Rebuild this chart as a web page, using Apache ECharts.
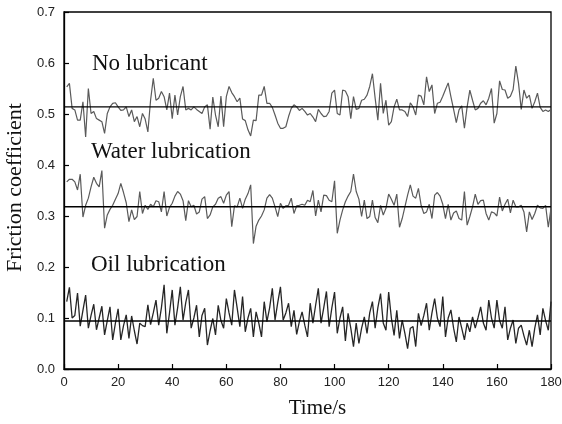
<!DOCTYPE html>
<html>
<head>
<meta charset="utf-8">
<script src="https://cdn.jsdelivr.net/npm/echarts@6/dist/echarts.min.js"></script>
<style>html,body{margin:0;padding:0;background:#fff}#c{width:562px;height:424px}</style>
</head>
<body>
<div id="c"></div>
<script>
const xTicks = [0, 20, 40, 60, 80, 100, 120, 140, 160, 180];
const yTicks = [0.0, 0.1, 0.2, 0.3, 0.4, 0.5, 0.6, 0.7];
const seriesNames = ["No lubricant", "Water lubrication", "Oil lubrication"];
const meanNoLub = 0.514;
const meanWater = 0.318;
const meanOil = 0.094;

const noLub = [
0.553,0.560,0.511,0.508,0.488,0.488,0.524,0.455,0.550,0.501,
0.505,0.491,0.488,0.485,0.462,0.501,0.514,0.521,0.522,0.514,
0.507,0.508,0.514,0.495,0.508,0.485,0.495,0.475,0.501,0.490,
0.465,0.527,0.570,0.527,0.531,0.544,0.534,0.508,0.541,0.491,
0.537,0.498,0.534,0.554,0.508,0.511,0.508,0.514,0.509,0.505,
0.501,0.514,0.518,0.470,0.533,0.498,0.475,0.535,0.475,0.534,
0.554,0.542,0.534,0.524,0.531,0.490,0.487,0.469,0.457,0.488,
0.487,0.537,0.537,0.554,0.521,0.521,0.513,0.498,0.482,0.472,
0.472,0.475,0.495,0.511,0.518,0.514,0.507,0.511,0.505,0.498,
0.501,0.494,0.485,0.509,0.501,0.495,0.496,0.505,0.541,0.547,
0.501,0.498,0.547,0.545,0.534,0.491,0.534,0.509,0.511,0.527,
0.529,0.537,0.554,0.579,0.531,0.488,0.560,0.501,0.527,0.478,
0.485,0.514,0.529,0.508,0.508,0.505,0.495,0.522,0.514,0.498,
0.537,0.535,0.518,0.573,0.544,0.557,0.501,0.521,0.523,0.535,
0.548,0.561,0.534,0.509,0.483,0.508,0.516,0.472,0.514,0.547,
0.527,0.508,0.511,0.521,0.526,0.518,0.531,0.550,0.482,0.501,
0.565,0.548,0.547,0.531,0.535,0.548,0.594,0.560,0.509,0.547,
0.531,0.537,0.511,0.524,0.541,0.513,0.505,0.508,0.505,0.509
];
const water = [
0.367,0.372,0.372,0.367,0.351,0.382,0.298,0.321,0.335,0.357,
0.376,0.364,0.357,0.389,0.276,0.302,0.313,0.321,0.333,0.344,
0.364,0.346,0.326,0.289,0.312,0.293,0.299,0.348,0.305,0.321,
0.313,0.323,0.318,0.330,0.328,0.308,0.348,0.300,0.317,0.325,
0.339,0.348,0.343,0.330,0.291,0.330,0.318,0.321,0.304,0.308,
0.333,0.338,0.295,0.302,0.318,0.323,0.335,0.338,0.325,0.341,
0.348,0.279,0.320,0.318,0.335,0.315,0.333,0.344,0.361,0.246,
0.280,0.292,0.300,0.312,0.335,0.342,0.335,0.318,0.299,0.325,
0.315,0.320,0.321,0.335,0.305,0.320,0.321,0.323,0.321,0.331,
0.328,0.350,0.300,0.331,0.308,0.341,0.340,0.331,0.328,0.369,
0.266,0.292,0.312,0.328,0.339,0.348,0.382,0.348,0.333,0.299,
0.331,0.295,0.299,0.331,0.297,0.287,0.321,0.302,0.315,0.343,
0.333,0.321,0.343,0.278,0.295,0.318,0.341,0.361,0.339,0.335,
0.354,0.321,0.305,0.308,0.323,0.295,0.341,0.346,0.339,0.323,
0.295,0.323,0.292,0.306,0.310,0.295,0.292,0.348,0.282,0.299,
0.318,0.343,0.323,0.330,0.331,0.305,0.292,0.308,0.306,0.300,
0.337,0.310,0.323,0.333,0.306,0.331,0.318,0.318,0.321,0.308,
0.269,0.308,0.293,0.305,0.321,0.316,0.315,0.321,0.278,0.315
];
const oil = [
0.132,0.160,0.100,0.105,0.149,0.084,0.115,0.145,0.080,0.105,
0.127,0.077,0.100,0.123,0.067,0.095,0.122,0.057,0.090,0.118,
0.057,0.085,0.106,0.060,0.104,0.075,0.049,0.090,0.085,0.083,
0.126,0.087,0.110,0.135,0.086,0.120,0.165,0.070,0.110,0.155,
0.086,0.120,0.161,0.096,0.130,0.155,0.080,0.100,0.125,0.063,
0.105,0.119,0.047,0.075,0.099,0.067,0.125,0.095,0.080,0.138,
0.110,0.086,0.155,0.120,0.083,0.142,0.073,0.100,0.119,0.063,
0.112,0.090,0.063,0.132,0.093,0.120,0.158,0.096,0.130,0.161,
0.096,0.110,0.129,0.083,0.115,0.068,0.093,0.112,0.086,0.063,
0.129,0.090,0.125,0.158,0.090,0.120,0.152,0.083,0.120,0.151,
0.070,0.100,0.122,0.055,0.109,0.080,0.044,0.090,0.050,0.080,
0.102,0.070,0.110,0.132,0.080,0.120,0.148,0.090,0.076,0.151,
0.100,0.066,0.115,0.060,0.096,0.070,0.040,0.080,0.083,0.044,
0.109,0.085,0.105,0.129,0.076,0.110,0.138,0.100,0.083,0.142,
0.063,0.100,0.116,0.080,0.053,0.102,0.080,0.057,0.090,0.073,
0.102,0.080,0.100,0.122,0.090,0.076,0.135,0.100,0.080,0.135,
0.095,0.080,0.122,0.057,0.080,0.096,0.050,0.080,0.086,0.065,
0.047,0.076,0.044,0.080,0.106,0.067,0.119,0.095,0.076,0.132
];
const timeStart = 1; // first sample at t = 1 s, one sample per second

function pairs(arr) { return arr.map((v, i) => [timeStart + i, v]); }
function meanLine(m) { return [[xTicks[0], m], [xTicks[xTicks.length - 1], m]]; }

const chart = echarts.init(document.getElementById('c'), null, {renderer: 'canvas'});
const serif = '"Liberation Serif", "Times New Roman", serif';
const sans = '"Liberation Sans", Arial, sans-serif';

chart.setOption({
  animation: false,
  backgroundColor: '#ffffff',
  grid: {left: 64, right: 11, top: 12, bottom: 55, outerBoundsMode: 'none', containLabel: false,
         show: true, borderColor: '#000', borderWidth: 1.3, backgroundColor: 'transparent'},
  xAxis: {
    type: 'value', min: 0, max: 180, interval: 20,
    name: 'Time/s', nameLocation: 'middle', nameGap: 29,
    nameTextStyle: {fontFamily: serif, fontSize: 21, color: '#111', padding: [0, 0, 0, 20]},
    axisLine: {show: true, lineStyle: {color: '#000', width: 1.3}},
    axisTick: {show: true, inside: true, length: 5, lineStyle: {color: '#000', width: 1.2}},
    axisLabel: {fontFamily: sans, fontSize: 13, color: '#222', margin: 7},
    splitLine: {show: false}
  },
  yAxis: {
    type: 'value', min: 0, max: 0.7, interval: 0.1,
    name: 'Friction coefficient', nameLocation: 'middle', nameGap: 37,
    nameTextStyle: {fontFamily: serif, fontSize: 22, color: '#111', padding: [0, 0, 0, 6]},
    axisLine: {show: true, lineStyle: {color: '#000', width: 1.3}},
    axisTick: {show: true, inside: true, length: 5, lineStyle: {color: '#000', width: 1.2}},
    axisLabel: {fontFamily: sans, fontSize: 13, color: '#222', margin: 9, formatter: v => v.toFixed(1)},
    splitLine: {show: false}
  },
  series: [
    {name: seriesNames[0], type: 'line', data: pairs(noLub), showSymbol: false, lineStyle: {color: '#5a5a5a', width: 1.2}, z: 2},
    {name: seriesNames[1], type: 'line', data: pairs(water), showSymbol: false, lineStyle: {color: '#5a5a5a', width: 1.2}, z: 2},
    {name: seriesNames[2], type: 'line', data: pairs(oil), showSymbol: false, lineStyle: {color: '#262626', width: 1.3}, z: 2},
    {type: 'line', data: meanLine(meanNoLub), showSymbol: false, lineStyle: {color: '#000', width: 1.4}, z: 3},
    {type: 'line', data: meanLine(meanWater), showSymbol: false, lineStyle: {color: '#000', width: 1.4}, z: 3},
    {type: 'line', data: meanLine(meanOil), showSymbol: false, lineStyle: {color: '#000', width: 1.4}, z: 3}
  ],
  graphic: [
    {type: 'text', left: 92, top: 52, style: {text: seriesNames[0], font: '23px ' + serif, fill: '#111'}},
    {type: 'text', left: 91, top: 140, style: {text: seriesNames[1], font: '23px ' + serif, fill: '#111'}},
    {type: 'text', left: 91, top: 253, style: {text: seriesNames[2], font: '23px ' + serif, fill: '#111'}}
  ]
});
</script>
</body>
</html>
